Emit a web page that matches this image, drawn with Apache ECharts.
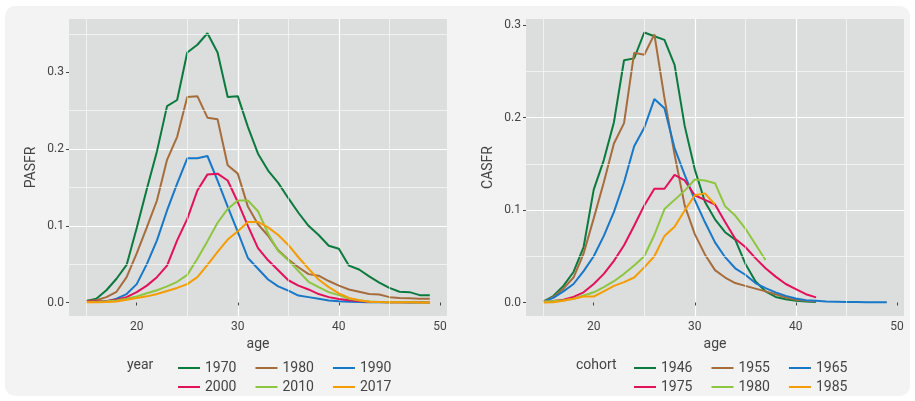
<!DOCTYPE html>
<html>
<head>
<meta charset="utf-8">
<title>PASFR / CASFR</title>
<script src="https://cdn.jsdelivr.net/npm/echarts@6/dist/echarts.min.js"></script>
<style>
  html, body { margin: 0; padding: 0; background: #ffffff; }
  #frame { position: absolute; left: 5px; top: 6px; width: 905px; height: 390px; background: #f2f3f2; border-radius: 10px; }
  #chart { position: absolute; left: 0; top: 0; width: 915px; height: 401px; }
</style>
</head>
<body>
<div id="frame"></div>
<div id="chart"></div>
<script>
  // ages 15..49
  var ages = [15, 16, 17, 18, 19, 20, 21, 22, 23, 24, 25, 26, 27, 28, 29, 30, 31, 32,
    33, 34, 35, 36, 37, 38, 39, 40, 41, 42, 43, 44, 45, 46, 47, 48, 49];

  var xBreaks = [20, 30, 40, 50];
  var xMinorBreaks = [15, 25, 35, 45];
  var yBreaks = [0, 0.1, 0.2, 0.3];
  var yMinorLeft = [0.05, 0.15, 0.25, 0.35];
  var yMinorRight = [0.05, 0.15, 0.25];

  var colorList = ['#0b7a3e', '#a66d3c', '#1878c8', '#e3105a', '#8dc63f', '#f59d00'];

  // left: period fertility by year
  var yearNames = ['1970', '1980', '1990', '2000', '2010', '2017'];
  var pasfr1970 = [0.002, 0.005, 0.016, 0.031, 0.049, 0.097, 0.148, 0.197, 0.256, 0.264, 0.326, 0.336,
    0.351, 0.326, 0.268, 0.269, 0.229, 0.194, 0.172, 0.156, 0.136, 0.117, 0.100, 0.088, 0.074, 0.070,
    0.048, 0.043, 0.034, 0.026, 0.019, 0.014, 0.0135, 0.0096, 0.0096];
  var pasfr1980 = [0.002, 0.003, 0.007, 0.014, 0.033, 0.064, 0.098, 0.133, 0.186, 0.216, 0.268, 0.269,
    0.241, 0.239, 0.179, 0.168, 0.125, 0.102, 0.087, 0.068, 0.056, 0.046, 0.037, 0.035, 0.028, 0.022,
    0.017, 0.014, 0.011, 0.0105, 0.007, 0.006, 0.0055, 0.005, 0.0048];
  var pasfr1990 = [0.001, 0.001, 0.0015, 0.005, 0.011, 0.024, 0.050, 0.081, 0.120, 0.155, 0.188, 0.188,
    0.191, 0.159, 0.125, 0.092, 0.058, 0.044, 0.030, 0.021, 0.0155, 0.009, 0.007, 0.0048, 0.0026, 0.0015,
    0.001, 0.0005, 0.0004, 0.0003, 0.0002, 0.0002, 0.0001, 0.0001, 0.0001];
  var pasfr2000 = [0.0013, 0.0013, 0.002, 0.0035, 0.007, 0.0135, 0.022, 0.033, 0.048, 0.081, 0.109, 0.146,
    0.167, 0.168, 0.159, 0.131, 0.100, 0.071, 0.055, 0.042, 0.029, 0.022, 0.017, 0.011, 0.007, 0.0045,
    0.003, 0.002, 0.001, 0.0005, 0.0004, 0.0003, 0.0002, 0.0002, 0.0001];
  var pasfr2010 = [0.0005, 0.0008, 0.0015, 0.0026, 0.005, 0.008, 0.012, 0.016, 0.021, 0.027, 0.036, 0.057,
    0.080, 0.104, 0.122, 0.133, 0.133, 0.119, 0.090, 0.067, 0.055, 0.041, 0.027, 0.020, 0.0135, 0.0096,
    0.005, 0.003, 0.0013, 0.0006, 0.0004, 0.0003, 0.0002, 0.0001, 0.0001];
  var pasfr2017 = [0.0002, 0.0003, 0.0005, 0.0013, 0.0035, 0.006, 0.008, 0.011, 0.015, 0.019, 0.024, 0.033,
    0.049, 0.066, 0.082, 0.093, 0.105, 0.105, 0.098, 0.088, 0.075, 0.059, 0.044, 0.030, 0.020, 0.012,
    0.006, 0.003, 0.001, 0.0005, 0.0003, 0.0002, 0.0002, 0.0001, 0.0001];

  // right: cohort fertility (series stop where the cohort is observed)
  var cohortNames = ['1946', '1955', '1965', '1975', '1980', '1985'];
  var casfr1946 = [0.001, 0.007, 0.018, 0.033, 0.060, 0.122, 0.154, 0.195, 0.262, 0.264, 0.292, 0.288,
    0.284, 0.257, 0.191, 0.144, 0.109, 0.090, 0.076, 0.068, 0.042, 0.023, 0.012, 0.006, 0.0036, 0.002,
    0.001, 0.0005];
  var casfr1955 = [0.001, 0.006, 0.015, 0.027, 0.053, 0.091, 0.130, 0.172, 0.194, 0.270, 0.268, 0.290,
    0.221, 0.160, 0.105, 0.074, 0.052, 0.035, 0.027, 0.021, 0.018, 0.015, 0.012, 0.009, 0.0054, 0.003,
    0.0018, 0.001];
  var casfr1965 = [0.001, 0.005, 0.012, 0.020, 0.034, 0.050, 0.072, 0.098, 0.130, 0.169, 0.189, 0.220,
    0.210, 0.167, 0.138, 0.111, 0.087, 0.065, 0.049, 0.037, 0.030, 0.021, 0.0155, 0.011, 0.0072, 0.0043,
    0.0025, 0.0018, 0.001, 0.0008, 0.0006, 0.0005, 0.0004, 0.0003, 0.0003];
  var casfr1975 = [0.001, 0.0015, 0.003, 0.006, 0.011, 0.020, 0.031, 0.045, 0.062, 0.083, 0.105, 0.123,
    0.123, 0.138, 0.132, 0.116, 0.111, 0.106, 0.087, 0.069, 0.060, 0.048, 0.037, 0.028, 0.020, 0.0145,
    0.009, 0.0055];
  var casfr1980 = [0.001, 0.0015, 0.0025, 0.004, 0.0076, 0.011, 0.0166, 0.023, 0.031, 0.040, 0.050, 0.073,
    0.101, 0.111, 0.121, 0.133, 0.132, 0.129, 0.104, 0.094, 0.080, 0.063, 0.046];
  var casfr1985 = [0, 0.0003, 0.002, 0.004, 0.0065, 0.0065, 0.012, 0.018, 0.022, 0.027, 0.038, 0.050,
    0.072, 0.082, 0.0996, 0.116, 0.118, 0.106];

  var yearValues = [pasfr1970, pasfr1980, pasfr1990, pasfr2000, pasfr2010, pasfr2017];
  var cohortValues = [casfr1946, casfr1955, casfr1965, casfr1975, casfr1980, casfr1985];

  var textColor = '#444444';
  var fontFamily = 'Roboto';

  function toPairs (vals) {
    return vals.map(function (v, i) {
      return [ages[i], v];
    });
  }

  function makeXAxis (idx) {
    return {
      type: 'value',
      gridIndex: idx,
      min: 13.3,
      max: 50.7,
      splitNumber: 4,
      name: 'age',
      nameLocation: 'middle',
      nameGap: 18,
      nameTextStyle: { color: textColor, fontSize: 14, fontFamily: fontFamily },
      axisLine: { show: false },
      axisTick: { show: true, length: 3, customValues: xBreaks, lineStyle: { color: '#444', width: 1 } },
      axisLabel: { customValues: xBreaks, margin: 5, color: textColor, fontSize: 12, fontFamily: fontFamily },
      splitLine: { show: true, showMinLine: false, showMaxLine: false, lineStyle: { color: '#ffffff', width: 1.2 } }
    };
  }

  function makeYAxis (idx, name, min, max) {
    return {
      type: 'value',
      gridIndex: idx,
      min: min,
      max: max,
      splitNumber: 3,
      name: name,
      nameLocation: 'middle',
      nameGap: 31,
      nameTextStyle: { color: textColor, fontSize: 14, fontFamily: fontFamily },
      axisLine: { show: false },
      axisTick: { show: true, length: 3, customValues: yBreaks, lineStyle: { color: '#444', width: 1 } },
      axisLabel: {
        customValues: yBreaks,
        margin: 5,
        color: textColor,
        fontSize: 12,
        fontFamily: fontFamily,
        formatter: function (v) {
          return v.toFixed(1);
        }
      },
      splitLine: { show: true, showMinLine: false, showMaxLine: false, lineStyle: { color: '#ffffff', width: 1.2 } }
    };
  }

  // thin minor grid lines, drawn under the data lines
  function minorSeries (idx, yMinor) {
    var lines = [];

    xMinorBreaks.forEach(function (v) {
      lines.push({ xAxis: v });
    });
    yMinor.forEach(function (v) {
      lines.push({ yAxis: v });
    });
    return {
      name: 'minor' + idx,
      type: 'line',
      xAxisIndex: idx,
      yAxisIndex: idx,
      z: 1,
      data: [[ages[0], 0]],
      showSymbol: false,
      lineStyle: { width: 0, opacity: 0 },
      silent: true,
      animation: false,
      markLine: {
        silent: true,
        symbol: ['none', 'none'],
        label: { show: false },
        animation: false,
        lineStyle: { color: '#ffffff', width: 0.6, type: 'solid' },
        emphasis: { disabled: true },
        data: lines
      }
    };
  }

  var seriesList = [minorSeries(0, yMinorLeft), minorSeries(1, yMinorRight)];

  yearNames.forEach(function (name, i) {
    seriesList.push({
      name: 'year ' + name,
      type: 'line',
      xAxisIndex: 0,
      yAxisIndex: 0,
      data: toPairs(yearValues[i]),
      showSymbol: false,
      z: 3,
      color: colorList[i],
      lineStyle: { width: 2, color: colorList[i] },
      animation: false
    });
  });
  cohortNames.forEach(function (name, i) {
    seriesList.push({
      name: 'cohort ' + name,
      type: 'line',
      xAxisIndex: 1,
      yAxisIndex: 1,
      data: toPairs(cohortValues[i]),
      showSymbol: false,
      z: 3,
      color: colorList[i],
      lineStyle: { width: 2, color: colorList[i] },
      animation: false
    });
  });

  function makeLegend (prefix, names, left, top) {
    return {
      left: left,
      top: top,
      orient: 'horizontal',
      icon: 'rect',
      itemWidth: 22,
      itemHeight: 2,
      itemGap: 19,
      selectedMode: false,
      textStyle: { color: textColor, fontSize: 14, fontFamily: fontFamily },
      formatter: function (n) {
        return n.split(' ')[1];
      },
      data: names.map(function (n) {
        return prefix + ' ' + n;
      })
    };
  }

  var chart = echarts.init(document.getElementById('chart'), null, { renderer: 'canvas' });

  chart.setOption({
    backgroundColor: 'transparent',
    textStyle: { fontFamily: fontFamily },
    grid: [
      { left: 69, top: 19, width: 378, height: 297, show: true, backgroundColor: '#dcdddd', borderWidth: 0 },
      { left: 526, top: 19, width: 378, height: 297, show: true, backgroundColor: '#dcdddd', borderWidth: 0 }
    ],
    xAxis: [makeXAxis(0), makeXAxis(1)],
    yAxis: [makeYAxis(0, 'PASFR', -0.0176, 0.3696), makeYAxis(1, 'CASFR', -0.0146, 0.3066)],
    legend: [
      makeLegend('year', yearNames.slice(0, 3), 173, 356),
      makeLegend('year', yearNames.slice(3), 173, 375),
      makeLegend('cohort', cohortNames.slice(0, 3), 629, 356),
      makeLegend('cohort', cohortNames.slice(3), 629, 375)
    ],
    graphic: [
      { type: 'text', x: 127, y: 365, style: { text: 'year', fontSize: 14, fontFamily: fontFamily, fill: textColor, verticalAlign: 'middle' } },
      { type: 'text', x: 576, y: 365, style: { text: 'cohort', fontSize: 14, fontFamily: fontFamily, fill: textColor, verticalAlign: 'middle' } }
    ],
    series: seriesList
  });
</script>
</body>
</html>
